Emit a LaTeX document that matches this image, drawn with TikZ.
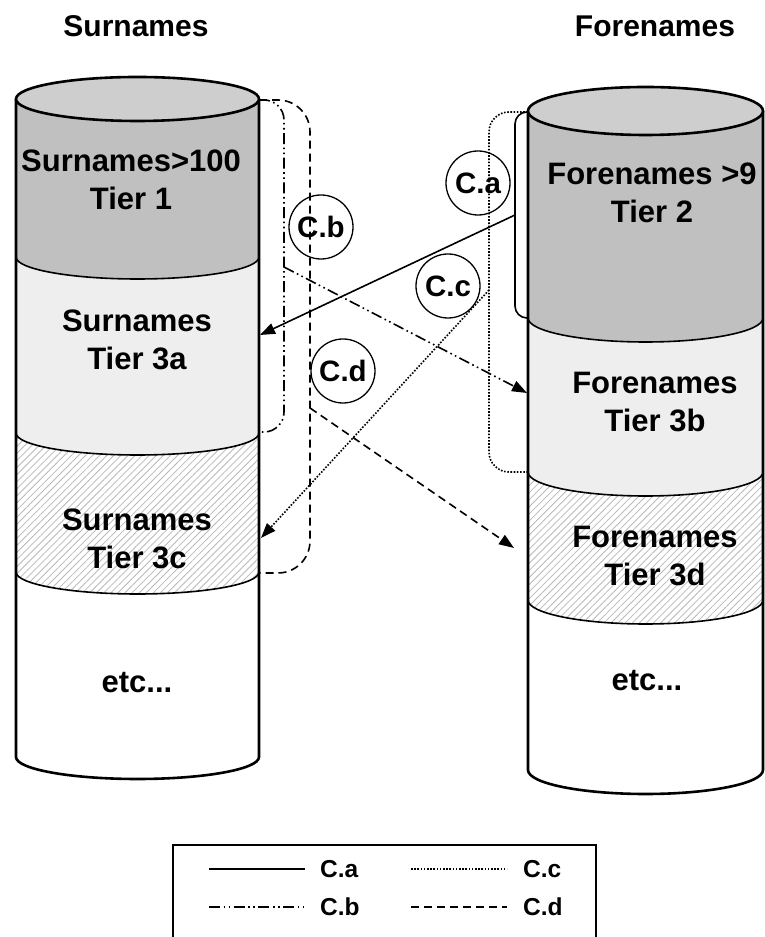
\documentclass[tikz,border=0pt]{standalone}
\usepackage{fontspec}
\setmainfont{Liberation Sans}
\usetikzlibrary{arrows.meta,patterns.meta}
\definecolor{tierdark}{RGB}{192,192,192}
\definecolor{tiertop}{RGB}{206,206,206}
\definecolor{tierlight}{RGB}{238,238,238}
\newcommand\cylband[6]{\fill[#6] ({#1-#2},#4) -- ({#1-#2},#5) arc[start angle=180,end angle=360,x radius=#2,y radius=#3] -- ({#1+#2},#4) arc[start angle=0,end angle=-180,x radius=#2,y radius=#3] -- cycle;}
\newcommand\cylarc[4]{\draw[bandline] ({#1-#2},#4) arc[start angle=180,end angle=360,x radius=#2,y radius=#3];}
\begin{document}
\begin{tikzpicture}[x=1pt,y=1pt,
  cylline/.style={line width=2.6pt,line join=round},
  bandline/.style={line width=1.6pt},
  hatch/.style={pattern={Lines[angle=45,distance=5pt,line width=0.8pt]},pattern color=gray!55},
  lbl/.style={font=\bfseries\fontsize{31}{38}\selectfont,align=center,inner sep=0pt},
  ttl/.style={font=\bfseries\fontsize{30}{36}\selectfont,inner sep=0pt},
  circ/.style={draw,circle,line width=1.3pt,minimum size=64pt,inner sep=0pt,font=\bfseries\fontsize{29.5}{32}\selectfont},
  legtxt/.style={font=\bfseries\fontsize{24.5}{28}\selectfont,anchor=west,inner sep=0pt},
  lnA/.style={line width=1.6pt},
  lnB/.style={line width=1.6pt,dash pattern=on 11pt off 3.5pt on 1.6pt off 3.5pt on 1.6pt off 3.5pt},
  lnC/.style={line width=1.6pt,dash pattern=on 1.6pt off 1.6pt},
  lnD/.style={line width=1.6pt,dash pattern=on 8pt off 5pt},
  tip/.style={-{Triangle[length=15pt,width=11pt]}}
]
\useasboundingbox (0,0) rectangle (765,937);
\fill[white] (0,0) rectangle (765,937);
% ---------- left cylinder ----------
\cylband{137.5}{121.5}{22}{838}{680}{tierdark}
\cylband{137.5}{121.5}{22}{680}{504}{tierlight}
\cylband{137.5}{121.5}{22}{504}{365}{hatch}
\cylarc{137.5}{121.5}{22}{680}
\cylarc{137.5}{121.5}{22}{504}
\cylarc{137.5}{121.5}{22}{365}
\draw[cylline] (16,838) -- (16,180) arc[start angle=180,end angle=360,x radius=121.5,y radius=22] -- (259,838);
\draw[cylline,fill=tiertop] (137.5,838) ellipse[x radius=121.5,y radius=22];
% ---------- right cylinder ----------
\cylband{645.5}{117.5}{24}{826}{619}{tierdark}
\cylband{645.5}{117.5}{24}{619}{465}{tierlight}
\cylband{645.5}{117.5}{24}{465}{337}{hatch}
\cylarc{645.5}{117.5}{24}{619}
\cylarc{645.5}{117.5}{24}{465}
\cylarc{645.5}{117.5}{24}{337}
\draw[cylline] (528,826) -- (528,167) arc[start angle=180,end angle=360,x radius=117.5,y radius=24] -- (763,826);
\draw[cylline,fill=tiertop] (645.5,826) ellipse[x radius=117.5,y radius=24];
% ---------- titles and labels ----------
\node[ttl] (tS) at (136,911) {Surnames};
\node[ttl] (tF) at (655,911) {Forenames};
\node[lbl] (s1) at (131,757) {Surnames>100\\Tier 1};
\node[lbl] (s3a) at (137,597) {Surnames\\Tier 3a};
\node[lbl] (s3c) at (137,398) {Surnames\\Tier 3c};
\node[lbl] (sE) at (137,254) {etc...};
\node[lbl] (f2) at (652,744) {Forenames >9\\Tier 2};
\node[lbl] (f3b) at (655,535) {Forenames\\Tier 3b};
\node[lbl] (f3d) at (655,381) {Forenames\\Tier 3d};
\node[lbl] (fE) at (647,256) {etc...};
% ---------- circles ----------
\node[circ] (cA) at (478,754) {C.a};
\node[circ] (cB) at (321,710) {C.b};
\node[circ] (cC) at (448,651) {C.c};
\node[circ] (cD) at (343,566) {C.d};
% ---------- connector points ----------
\coordinate (Ltop) at (259,837);
\coordinate (aTop) at (528,825);
\coordinate (aMid) at (515,722);
\coordinate (aBot) at (528,619);
\coordinate (aEnd) at (260,602);
\coordinate (bMid) at (284,670);
\coordinate (bBot) at (259,505);
\coordinate (bEnd) at (527,544);
\coordinate (cTop) at (528,825);
\coordinate (cMid) at (489,647);
\coordinate (cBot) at (528,465);
\coordinate (cEnd) at (261,399);
\coordinate (dMid) at (310,529);
\coordinate (dBot) at (259,364);
\coordinate (dEnd) at (514,389);
% ---------- connectors ----------
\draw[lnA,rounded corners=12pt] (aTop) -| (aMid) |- (aBot);
\draw[lnA,tip] (aMid) -- (aEnd);
\draw[lnB,rounded corners=20pt] (Ltop) -| (bMid) |- (bBot);
\draw[lnB,tip] (bMid) -- (bEnd);
\draw[lnC,rounded corners=20pt] (cTop) -| (cMid) |- (cBot);
\draw[lnC,tip] (cMid) -- (cEnd);
\draw[lnD,rounded corners=32pt] (Ltop) -| (dMid) |- (dBot);
\draw[lnD,tip] (dMid) -- (dEnd);
% ---------- legend ----------
\draw[line width=1.3pt] (173,-10) rectangle (596,92);
\coordinate (la1) at (209,68); \coordinate (la2) at (305,68);
\coordinate (lb1) at (209,30); \coordinate (lb2) at (305,30);
\coordinate (lc1) at (411,68); \coordinate (lc2) at (507,68);
\coordinate (ld1) at (411,30); \coordinate (ld2) at (507,30);
\draw[lnA] (la1) -- (la2);
\draw[lnB] (lb1) -- (lb2);
\draw[lnC] (lc1) -- (lc2);
\draw[lnD] (ld1) -- (ld2);
\node[legtxt] (ta) at (320,68) {C.a};
\node[legtxt] (tb) at (320,30) {C.b};
\node[legtxt] (tc) at (523,68) {C.c};
\node[legtxt] (td) at (523,30) {C.d};
\end{tikzpicture}
\end{document}
